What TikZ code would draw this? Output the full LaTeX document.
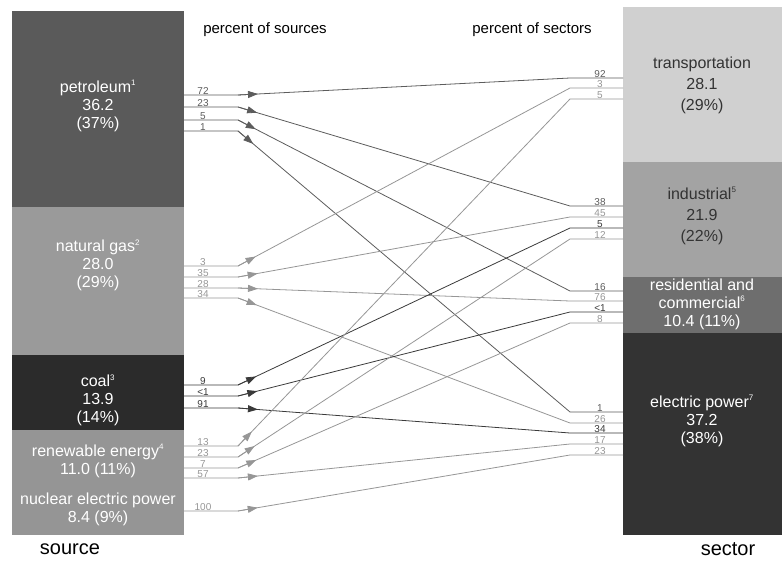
\documentclass[tikz,border=0pt]{standalone}
\usepackage{fontspec}
\setmainfont{Liberation Sans}
\usetikzlibrary{arrows.meta,calc}
\definecolor{petrol}{HTML}{5A5A5A}
\definecolor{gasc}{HTML}{9A9A9A}
\definecolor{coalc}{HTML}{2B2B2B}
\definecolor{renew}{HTML}{959595}
\definecolor{transc}{HTML}{D0D0D0}
\definecolor{indus}{HTML}{A3A3A3}
\definecolor{resid}{HTML}{6E6E6E}
\definecolor{elec}{HTML}{333333}
\definecolor{flowdark}{HTML}{5C5C5C}
\definecolor{flowlight}{HTML}{969696}
\definecolor{flowblack}{HTML}{3A3A3A}
\newcommand{\fnote}[1]{\textsuperscript{\fontsize{8}{8}\selectfont #1}}

\begin{document}
\begin{tikzpicture}[x=1pt, y=-1pt,
  boxlabel/.style={font=\fontsize{16}{18}\selectfont, align=center, inner sep=0pt},
  widelabel/.style={font=\fontsize{16}{21}\selectfont, align=center, inner sep=0pt},
  pct/.style={font=\fontsize{10}{10}\selectfont, inner sep=0.6pt, above},
  flow/.style={line width=0.8pt},
  flowtip/.style={-{Triangle[length=10pt,width=7pt]}}]
  \useasboundingbox (0,0) rectangle (782,561);

  % source blocks
  \fill[petrol] (12,11) rectangle (184,207);
  \fill[gasc] (12,207) rectangle (184,355);
  \fill[coalc] (12,355) rectangle (184,430);
  \fill[renew] (12,430) rectangle (184,490);
  \fill[renew] (12,490) rectangle (184,535);

  \node[boxlabel,white] (petroleum) at (98,106) {petroleum\fnote{1}\\36.2\\(37\%)};
  \node[boxlabel,white] (natgas) at (98,265) {natural gas\fnote{2}\\28.0\\(29\%)};
  \node[boxlabel,white] (coal) at (98,400) {coal\fnote{3}\\13.9\\(14\%)};
  \node[boxlabel,white] (renewable) at (98,461) {renewable energy\fnote{4}\\11.0 (11\%)};
  \node[boxlabel,white] (nuclear) at (98,509) {nuclear electric power\\8.4 (9\%)};

  % sector blocks
  \fill[transc] (623,7) rectangle (782,162);
  \fill[indus] (623,162) rectangle (782,277);
  \fill[resid] (623,277) rectangle (782,333);
  \fill[elec] (623,333) rectangle (782,535);

  \node[widelabel,elec] (transport) at (702,85) {transportation\\28.1\\(29\%)};
  \node[widelabel,elec] (industrial) at (702,216) {industrial\fnote{5}\\21.9\\(22\%)};
  \node[boxlabel,white] (residential) at (702,304) {residential and\\commercial\fnote{6}\\10.4 (11\%)};
  \node[boxlabel,white] (electric) at (702,421) {electric power\fnote{7}\\37.2\\(38\%)};

  % headings
  \node[font=\fontsize{15}{16}\selectfont] (srchead) at (265,30) {percent of sources};
  \node[font=\fontsize{15}{16}\selectfont] (sechead) at (532,30) {percent of sectors};
  \node[font=\fontsize{20}{22}\selectfont] (source) at (70,549) {source};
  \node[font=\fontsize{20}{22}\selectfont] (sector) at (728,549) {sector};

  % flows: source y / source pct / sector y / sector pct / colour
  \foreach \ys/\ls/\yt/\lt/\c [count=\i] in {
      95/72/78/92/flowdark, 107/23/206/38/flowdark, 120/5/291/16/flowdark, 131/1/412/1/flowdark,
      266/3/88/3/flowlight, 277/35/217/45/flowlight, 288/28/301/76/flowlight, 298/34/423/26/flowlight,
      385/9/228/5/flowblack, 396/<1/312/<1/flowblack, 408/91/433/34/flowblack,
      446/13/99/5/flowlight, 457/23/239/12/flowlight, 468/7/323/8/flowlight, 478/57/444/17/flowlight,
      511/100/455/23/flowlight} {
    \coordinate (src-\i) at (184,\ys);
    \coordinate (srcbend-\i) at (238,\ys);
    \coordinate (secbend-\i) at (570,\yt);
    \coordinate (sec-\i) at (623,\yt);
    \draw[flow,\c] (src-\i) -- (srcbend-\i) -- (secbend-\i) -- (sec-\i);
    \draw[flow,flowtip,\c] (srcbend-\i) -- ($(srcbend-\i)!20pt!(secbend-\i)$);
    \node[pct,\c] (pl-\i) at (203,\ys) {\ls};
    \node[pct,\c] (pr-\i) at (600,\yt) {\lt};
  }
\end{tikzpicture}
\end{document}
